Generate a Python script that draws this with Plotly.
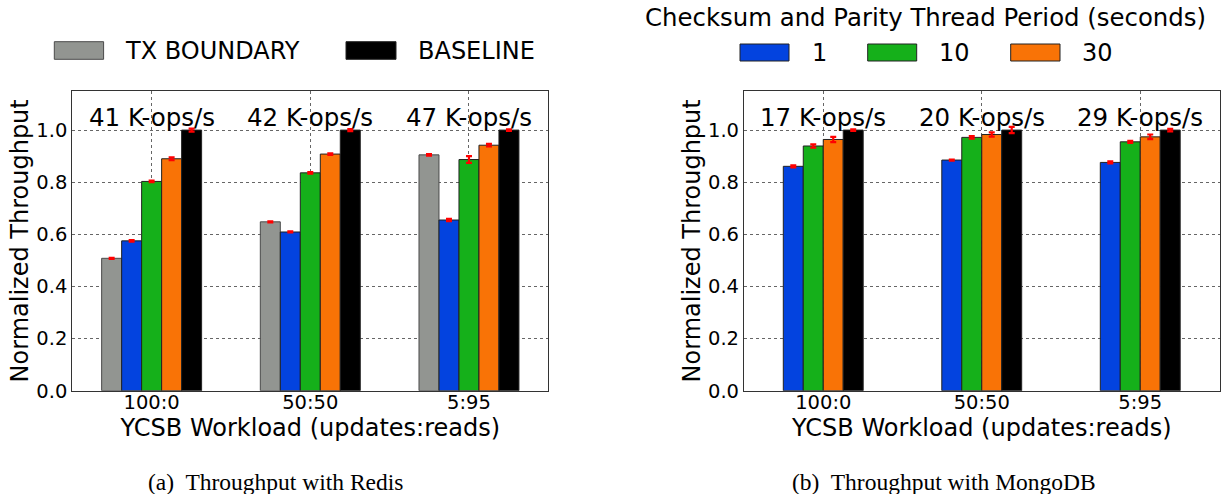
import plotly.graph_objects as go

# ---------------- data ----------------
workloads = ["100:0", "50:50", "5:95"]

redis_tx = [0.508, 0.648, 0.905]
redis_p1 = [0.575, 0.609, 0.655]
redis_p10 = [0.803, 0.836, 0.887]
redis_p30 = [0.890, 0.908, 0.942]
redis_base = [1.0, 1.0, 1.0]
redis_err_tx = [0.002, 0.002, 0.003]
redis_err_p1 = [0.003, 0.002, 0.004]
redis_err_p10 = [0.003, 0.003, 0.013]
redis_err_p30 = [0.005, 0.003, 0.005]
redis_err_base = [0.006, 0.004, 0.003]
redis_kops = ["41 K-ops/s", "42 K-ops/s", "47 K-ops/s"]

mongo_p1 = [0.861, 0.885, 0.876]
mongo_p10 = [0.939, 0.972, 0.955]
mongo_p30 = [0.964, 0.983, 0.974]
mongo_base = [1.0, 1.0, 1.0]
mongo_err_p1 = [0.004, 0.002, 0.004]
mongo_err_p10 = [0.006, 0.005, 0.004]
mongo_err_p30 = [0.010, 0.008, 0.009]
mongo_err_base = [0.003, 0.012, 0.005]
mongo_kops = ["17 K-ops/s", "20 K-ops/s", "29 K-ops/s"]

yticks = [0.0, 0.2, 0.4, 0.6, 0.8, 1.0]

legend1_labels = ["TX BOUNDARY", "BASELINE"]
legend2_title = "Checksum and Parity Thread Period (seconds)"
legend2_labels = ["1", "10", "30"]

x_title = "YCSB Workload (updates:reads)"
y_title = "Normalized Throughput"
captions = ["(a)&nbsp; Throughput with Redis", "(b)&nbsp; Throughput with MongoDB"]

# ---------------- style ----------------
W, H = 1221, 494
FONT = "DejaVu Sans"
C_GRAY = "#929591"
C_BLUE = "#0343df"
C_GREEN = "#15b01a"
C_ORANGE = "#f97306"
C_BLACK = "#000000"
BW = 0.126  # bar width in category units


def px(x):
    return x / W


def py(y):
    return 1 - y / H


fig = go.Figure()


def add_bar(vals, errs, color, xa, ya, k, n, edge="#222222"):
    fig.add_trace(go.Bar(
        x=workloads, y=vals, xaxis=xa, yaxis=ya,
        width=BW, offset=(-n / 2 + k) * BW,
        marker=dict(color=color, line=dict(color=edge, width=1)),
        error_y=dict(type="data", array=errs, color="#ff0000",
                     thickness=2.2, width=3),
        showlegend=False,
    ))


# Redis (left)
add_bar(redis_tx, redis_err_tx, C_GRAY, "x", "y", 0, 5, edge="#4a4a4a")
add_bar(redis_p1, redis_err_p1, C_BLUE, "x", "y", 1, 5)
add_bar(redis_p10, redis_err_p10, C_GREEN, "x", "y", 2, 5)
add_bar(redis_p30, redis_err_p30, C_ORANGE, "x", "y", 3, 5)
add_bar(redis_base, redis_err_base, C_BLACK, "x", "y", 4, 5)

# MongoDB (right)
add_bar(mongo_p1, mongo_err_p1, C_BLUE, "x2", "y2", 0, 4)
add_bar(mongo_p10, mongo_err_p10, C_GREEN, "x2", "y2", 1, 4)
add_bar(mongo_p30, mongo_err_p30, C_ORANGE, "x2", "y2", 2, 4)
add_bar(mongo_base, mongo_err_base, C_BLACK, "x2", "y2", 3, 4)

ydom = [py(390.7), py(91)]
xcommon = dict(
    type="category", range=[-0.5, 2.5], automargin=False,
    showline=True, mirror=True, linecolor="#333333", linewidth=1.2,
    showgrid=True, gridcolor="#666666", gridwidth=1, griddash="dot",
    ticks="", tickfont=dict(family=FONT, size=19.5, color="black"),
    ticklabelstandoff=-6,
    title=dict(text=x_title, font=dict(family=FONT, size=24, color="black"),
               standoff=0),
    zeroline=False,
)
ycommon = dict(
    range=[0, 1.15], tickvals=yticks, tickformat=".1f", automargin=False,
    showline=True, mirror=True, linecolor="#333333", linewidth=1.2,
    showgrid=True, gridcolor="#666666", gridwidth=1, griddash="dot",
    ticks="", tickfont=dict(family=FONT, size=19.5, color="black"),
    title=dict(text=y_title, font=dict(family=FONT, size=24, color="black"),
               standoff=0),
    zeroline=False, domain=ydom,
)

fig.update_layout(
    width=W, height=H,
    margin=dict(l=0, r=0, t=0, b=0, autoexpand=False),
    paper_bgcolor="white", plot_bgcolor="white",
    barmode="overlay",
    xaxis=dict(xcommon, domain=[px(72.3), px(548.3)], anchor="y"),
    yaxis=dict(ycommon, anchor="x"),
    xaxis2=dict(xcommon, domain=[px(744), px(1219.5)], anchor="y2"),
    yaxis2=dict(ycommon, anchor="x2"),
    font=dict(family=FONT, color="black"),
)

annotations = []
for i, t in enumerate(redis_kops):
    annotations.append(dict(x=workloads[i], y=1.05, xref="x", yref="y", text=t,
                            showarrow=False, font=dict(family=FONT, size=24.5),
                            xanchor="center", yanchor="middle"))
for i, t in enumerate(mongo_kops):
    annotations.append(dict(x=workloads[i], y=1.05, xref="x2", yref="y2", text=t,
                            showarrow=False, font=dict(family=FONT, size=24.5),
                            xanchor="center", yanchor="middle"))

shapes = []
# legend 1
leg1 = [(54.3, 103.6, 123, C_GRAY, "#4a4a4a"), (346, 396, 416, C_BLACK, "#222222")]
for (x0, x1, tx, col, edge), lab in zip(leg1, legend1_labels):
    shapes.append(dict(type="rect", xref="paper", yref="paper",
                       x0=px(x0), x1=px(x1), y0=py(59.3), y1=py(41.7),
                       fillcolor=col, line=dict(color=edge, width=1)))
    annotations.append(dict(x=px(tx), y=py(50.5), xref="paper", yref="paper",
                            text=lab, showarrow=False, xanchor="left",
                            yanchor="middle", font=dict(family=FONT, size=24)))
# legend 2
annotations.append(dict(x=px(925.5), y=py(17), xref="paper", yref="paper",
                        text=legend2_title, showarrow=False, xanchor="center",
                        yanchor="middle", font=dict(family=FONT, size=24.4)))
leg2 = [(740, 789, 810, C_BLUE), (867.7, 916.7, 937, C_GREEN), (1010.7, 1060, 1080, C_ORANGE)]
for (x0, x1, tx, col), lab in zip(leg2, legend2_labels):
    shapes.append(dict(type="rect", xref="paper", yref="paper",
                       x0=px(x0), x1=px(x1), y0=py(61), y1=py(44),
                       fillcolor=col, line=dict(color="#222222", width=1)))
    annotations.append(dict(x=px(tx), y=py(52.5), xref="paper", yref="paper",
                            text=lab, showarrow=False, xanchor="left",
                            yanchor="middle", font=dict(family=FONT, size=24)))

# captions
for cx, cap in zip([275, 944], captions):
    annotations.append(dict(x=px(cx), y=py(481.5), xref="paper", yref="paper",
                            text=cap, showarrow=False, xanchor="center",
                            yanchor="middle",
                            font=dict(family="Liberation Serif", size=23.5)))

fig.update_layout(annotations=annotations, shapes=shapes)
fig.write_html(
    "out.html",
    config={"displayModeBar": False},
    post_script="document.body.style.margin='0';document.body.style.overflow='hidden';",
)
